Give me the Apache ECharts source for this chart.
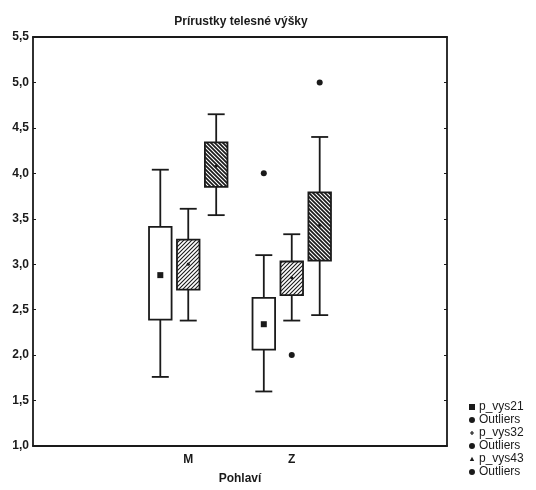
<!DOCTYPE html>
<html>
<head>
<meta charset="utf-8">
<script src="https://cdn.jsdelivr.net/npm/echarts@6/dist/echarts.min.js"></script>
<style>html,body{margin:0;padding:0;background:#fff;}#c{width:536px;height:490px;}</style>
</head>
<body>
<div id="c"></div>
<script>
// ---- data ----
const categories = ['', 'M', 'Z', ''];
const groupIndex = [1, 2];            // category positions of M and Z
// per group: [whisker low, Q1, Q3, whisker high, mean]
const p_vys21 = [[1.76, 2.39, 3.41, 4.04, 2.88], [1.60, 2.06, 2.63, 3.10, 2.34]];
const p_vys32 = [[2.38, 2.72, 3.27, 3.61, 3.00], [2.38, 2.66, 3.03, 3.33, 2.85]];
const p_vys43 = [[3.54, 3.85, 4.34, 4.65, 4.08], [2.44, 3.04, 3.79, 4.40, 3.43]];
// outliers: [category position, value]
const out21 = [[2, 4.0]];
const out32 = [[2, 2.0]];
const out43 = [[2, 5.0]];
const yTicks = [1.0, 1.5, 2.0, 2.5, 3.0, 3.5, 4.0, 4.5, 5.0, 5.5];

const INK = '#1a1a1a';

function hatch(size, lw, dir) {
  const c = document.createElement('canvas');
  c.width = size; c.height = size;
  const ctx = c.getContext('2d');
  ctx.fillStyle = '#fff'; ctx.fillRect(0, 0, size, size);
  ctx.strokeStyle = INK; ctx.lineWidth = lw;
  ctx.beginPath();
  if (dir === '/') {
    ctx.moveTo(-1, size + 1); ctx.lineTo(size + 1, -1);
    ctx.moveTo(-1, 1); ctx.lineTo(1, -1);
    ctx.moveTo(size - 1, size + 1); ctx.lineTo(size + 1, size - 1);
  } else {
    ctx.moveTo(-1, -1); ctx.lineTo(size + 1, size + 1);
    ctx.moveTo(size - 1, -1); ctx.lineTo(size + 1, 1);
    ctx.moveTo(-1, size - 1); ctx.lineTo(1, size + 1);
  }
  ctx.stroke();
  return c;
}
const fill21 = '#ffffff';
const fill32 = { image: hatch(4, 1.1, '/'), repeat: 'repeat' };
const fill43 = { image: hatch(4, 1.7, '\\'), repeat: 'repeat' };

function toRows(stats) {
  return stats.map((s, i) => [groupIndex[i]].concat(s));
}

function boxRender(offset, fill, meanType) {
  return function (params, api) {
    const cat = api.value(0);
    const band = api.size([1, 0])[0];
    const cx = api.coord([cat, 0])[0] + offset * band;
    const hw = 0.109 * band, cw = 0.082 * band;
    const yLo = api.coord([cat, api.value(1)])[1];
    const yQ1 = api.coord([cat, api.value(2)])[1];
    const yQ3 = api.coord([cat, api.value(3)])[1];
    const yHi = api.coord([cat, api.value(4)])[1];
    const yM = api.coord([cat, api.value(5)])[1];
    const ls = { stroke: INK, lineWidth: 1.8 };
    const children = [
      { type: 'line', shape: { x1: cx, y1: yLo, x2: cx, y2: yHi }, style: ls },
      { type: 'line', shape: { x1: cx - cw, y1: yLo, x2: cx + cw, y2: yLo }, style: ls },
      { type: 'line', shape: { x1: cx - cw, y1: yHi, x2: cx + cw, y2: yHi }, style: ls },
      { type: 'rect', shape: { x: cx - hw, y: yQ3, width: 2 * hw, height: yQ1 - yQ3 },
        style: { fill: fill, stroke: INK, lineWidth: 1.8 } }
    ];
    if (meanType === 'square') {
      children.push({ type: 'rect', shape: { x: cx - 3, y: yM - 3, width: 6, height: 6 }, style: { fill: INK } });
    } else {
      children.push({ type: 'circle', shape: { cx: cx, cy: yM, r: 1.6 }, style: { fill: INK } });
    }
    return { type: 'group', children: children };
  };
}

function outRender(offset) {
  return function (params, api) {
    const cat = api.value(0);
    const band = api.size([1, 0])[0];
    const p = api.coord([cat, api.value(1)]);
    return { type: 'circle', shape: { cx: p[0] + offset * band, cy: p[1], r: 3 }, style: { fill: INK } };
  };
}

const OFF = 0.27;
const chart = echarts.init(document.getElementById('c'));
const sq = 'path://M0,0M10,10M2,2L8,2L8,8L2,8Z';
const plus = 'path://M0,0M10,10M4.4,3L5.6,3L5.6,4.4L7,4.4L7,5.6L5.6,5.6L5.6,7L4.4,7L4.4,5.6L3,5.6L3,4.4L4.4,4.4Z';
const tri = 'path://M0,0M10,10M5,2.8L7.2,7L2.8,7Z';
const dot = 'path://M0,0M10,10M5,2A3,3,0,1,1,4.99,2Z';

chart.setOption({
  animation: false,
  backgroundColor: '#ffffff',
  title: {
    text: 'Prírustky telesné výšky',
    left: 236, top: 11, textAlign: 'center',
    textStyle: { fontFamily: 'Arial, Liberation Sans', fontSize: 12, fontWeight: 'bold', color: INK }
  },
  legend: {
    orient: 'vertical', left: 462, top: 396,
    itemWidth: 10, itemHeight: 10, itemGap: 1, selectedMode: false,
    formatter: function (n) { return n.indexOf('Outliers') === 0 ? 'Outliers' : n; },
    textStyle: { fontFamily: 'Arial, Liberation Sans', fontSize: 12, lineHeight: 11, color: INK, padding: [0, 0, 0, -3] },
    data: [
      { name: 'p_vys21', icon: sq },
      { name: 'Outliers 21', icon: dot },
      { name: 'p_vys32', icon: plus },
      { name: 'Outliers 32', icon: dot },
      { name: 'p_vys43', icon: tri },
      { name: 'Outliers 43', icon: dot }
    ]
  },
  grid: { left: 33, top: 37, width: 414, height: 412 },
  xAxis: [
    {
      type: 'category', data: categories, position: 'bottom',
      axisLine: { lineStyle: { color: INK, width: 1.8 } },
      axisTick: { inside: true, alignWithLabel: true, length: 3, lineStyle: { color: INK } },
      axisLabel: { margin: 8, color: INK, fontFamily: 'Arial, Liberation Sans', fontSize: 12, fontWeight: 'bold' },
      name: 'Pohlaví', nameLocation: 'middle', nameGap: 27,
      nameTextStyle: { color: INK, fontFamily: 'Arial, Liberation Sans', fontSize: 12, fontWeight: 'bold' },
      splitLine: { show: false }
    },
    {
      type: 'category', data: categories, position: 'top',
      axisLine: { lineStyle: { color: INK, width: 1.8 } },
      axisTick: { inside: true, alignWithLabel: true, length: 3, lineStyle: { color: INK } },
      axisLabel: { show: false }, splitLine: { show: false }
    }
  ],
  yAxis: [
    {
      type: 'value', min: yTicks[0], max: yTicks[yTicks.length - 1], interval: 0.5,
      axisLine: { show: true, lineStyle: { color: INK, width: 1.8 } },
      axisTick: { show: true, inside: true, length: 3, lineStyle: { color: INK } },
      axisLabel: {
        margin: 4, color: INK, fontFamily: 'Arial, Liberation Sans', fontSize: 12, fontWeight: 'bold',
        formatter: function (v) { return v.toFixed(1).replace('.', ','); }
      },
      splitLine: { show: false }
    },
    {
      type: 'value', min: yTicks[0], max: yTicks[yTicks.length - 1], interval: 0.5, position: 'right',
      axisLine: { show: true, lineStyle: { color: INK, width: 1.8 } },
      axisTick: { show: true, inside: true, length: 3, lineStyle: { color: INK } },
      axisLabel: { show: false }, splitLine: { show: false }
    }
  ],
  series: [
    { name: 'p_vys21', type: 'custom', itemStyle: { color: INK }, data: toRows(p_vys21),
      renderItem: boxRender(-OFF, fill21, 'square'), encode: { x: 0, y: [1, 2, 3, 4, 5] } },
    { name: 'Outliers 21', type: 'custom', itemStyle: { color: INK }, data: out21,
      renderItem: outRender(-OFF), encode: { x: 0, y: 1 } },
    { name: 'p_vys32', type: 'custom', itemStyle: { color: INK }, data: toRows(p_vys32),
      renderItem: boxRender(0, fill32, 'dot'), encode: { x: 0, y: [1, 2, 3, 4, 5] } },
    { name: 'Outliers 32', type: 'custom', itemStyle: { color: INK }, data: out32,
      renderItem: outRender(0), encode: { x: 0, y: 1 } },
    { name: 'p_vys43', type: 'custom', itemStyle: { color: INK }, data: toRows(p_vys43),
      renderItem: boxRender(OFF, fill43, 'dot'), encode: { x: 0, y: [1, 2, 3, 4, 5] } },
    { name: 'Outliers 43', type: 'custom', itemStyle: { color: INK }, data: out43,
      renderItem: outRender(OFF), encode: { x: 0, y: 1 } }
  ]
});
</script>
</body>
</html>
